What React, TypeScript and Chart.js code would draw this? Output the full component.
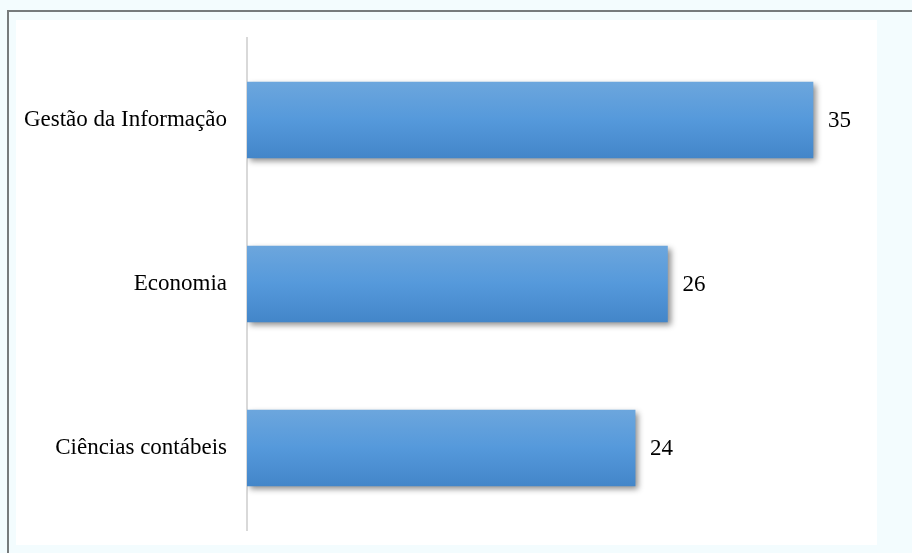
import React, { useEffect, useRef } from "react";
import { Chart, registerables } from "chart.js";

Chart.register(...registerables);

const categories = ["Gestão da Informação", "Economia", "Ciências contábeis"];
const values = [35, 26, 24];
const axisMax = 38;

const FONT = '"Liberation Serif", "Times New Roman", serif';

const barShadow = {
  id: "barShadow",
  beforeDatasetsDraw(chart: any) {
    const ctx = chart.ctx;
    ctx.save();
    ctx.shadowColor = "rgba(0,0,0,0.45)";
    ctx.shadowBlur = 6;
    ctx.shadowOffsetX = 3;
    ctx.shadowOffsetY = 3;
  },
  afterDatasetsDraw(chart: any) {
    chart.ctx.restore();
  },
};

const valueLabels = {
  id: "valueLabels",
  afterDatasetsDraw(chart: any) {
    const ctx = chart.ctx;
    const meta = chart.getDatasetMeta(0);
    const data = chart.data.datasets[0].data as number[];
    ctx.save();
    ctx.font = `23px ${FONT}`;
    ctx.fillStyle = "#000";
    ctx.textAlign = "left";
    ctx.textBaseline = "middle";
    meta.data.forEach((el: any, i: number) => {
      ctx.fillText(String(data[i]), el.x + 15, el.y + 1);
    });
    ctx.restore();
  },
};

export default function App() {
  const ref = useRef<HTMLCanvasElement>(null);

  useEffect(() => {
    if (!ref.current) return;
    const chart = new Chart(ref.current, {
      type: "bar",
      data: {
        labels: categories,
        datasets: [
          {
            data: values,
            borderWidth: 0,
            barThickness: 76,
            backgroundColor: (c: any) => {
              const chartRef = c.chart;
              const area = chartRef.chartArea;
              const yScale = chartRef.scales && chartRef.scales.y;
              if (!area || !yScale || c.dataIndex === undefined) return "#5399dc";
              const cy = yScale.getPixelForValue(c.dataIndex);
              if (!isFinite(cy)) return "#5399dc";
              const top = cy - 38;
              const g = chartRef.ctx.createLinearGradient(0, top, 0, top + 76);
              g.addColorStop(0, "#6ca6dd");
              g.addColorStop(0.5, "#5599db");
              g.addColorStop(1, "#4386c9");
              return g;
            },
          },
        ],
      },
      options: {
        animation: false,
        responsive: false,
        indexAxis: "y",
        layout: { padding: { left: 0, right: 15.5, top: 40, bottom: 40 } },
        plugins: { legend: { display: false }, tooltip: { enabled: false } },
        scales: {
          x: {
            display: false,
            min: 0,
            max: axisMax,
          },
          y: {
            afterFit: (scale: any) => {
              scale.width = 231;
            },
            grid: { display: false, drawTicks: false },
            border: { display: true, color: "#d9d9d9", width: 2 },
            ticks: {
              padding: 20,
              color: "#000",
              font: { family: FONT, size: 23 },
            },
          },
        },
      },
      plugins: [barShadow, valueLabels],
    });
    return () => chart.destroy();
  }, []);

  return (
    <div
      style={{
        position: "fixed",
        left: 0,
        top: 0,
        width: 912,
        height: 553,
        background: "#f3fcfe",
        overflow: "hidden",
      }}
    >
      <div
        style={{
          position: "absolute",
          left: 7,
          top: 10,
          width: 910,
          height: 550,
          borderLeft: "2px solid #767b7c",
          borderTop: "2px solid #767b7c",
        }}
      />
      <div
        style={{
          position: "absolute",
          left: 16,
          top: 20,
          width: 861,
          height: 525,
          background: "#ffffff",
        }}
      />
      <canvas
        ref={ref}
        width={861}
        height={572}
        style={{ display: "block", position: "absolute", left: 16, top: -2 }}
      />
    </div>
  );
}
